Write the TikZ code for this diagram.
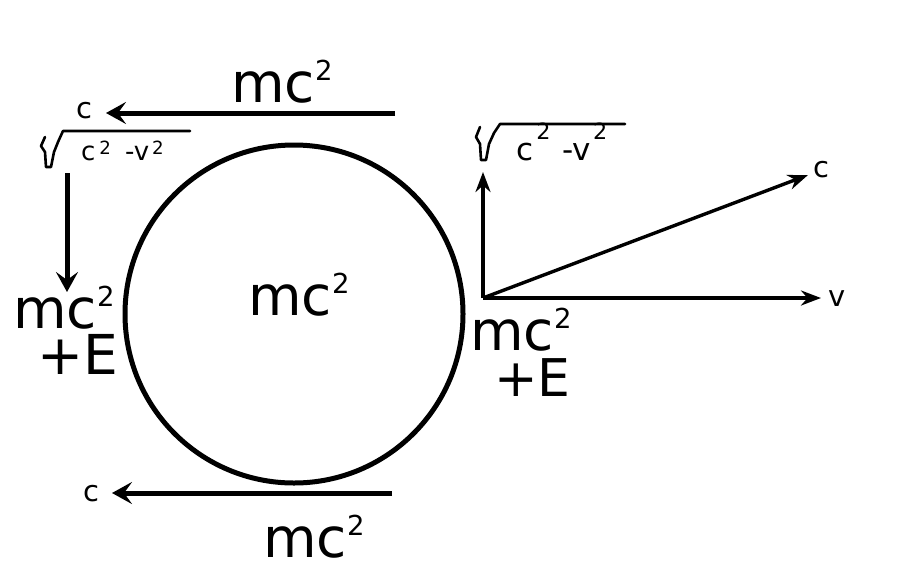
\documentclass[tikz,border=0pt]{standalone}
\usepackage{fontspec}
\setmainfont{DejaVu Sans}
\usetikzlibrary{arrows.meta,positioning}
\tikzset{
  big/.style={font=\fontsize{55}{55}\selectfont, inner sep=0pt, anchor=base west, text depth=0pt},
  small/.style={font=\fontsize{29}{29}\selectfont, inner sep=0pt, anchor=base west, text depth=0pt},
  rootlbl/.style={font=\fontsize{31}{31}\selectfont, inner sep=0pt, anchor=base west, text depth=0pt},
  flow/.style={-{Stealth[length=20pt,width=22pt,inset=8pt]}, line width=5pt},
  axis/.style={-{Stealth[length=20pt,width=15pt]}, line width=3.4pt},
  rootsign/.style={line width=2.6pt, line join=round, line cap=round},
}
\newcommand{\sqr}[2]{\raisebox{#2em}{\scalebox{#1}{2}}}
\newcommand{\mcsq}{mc\sqr{0.5}{0.4}}
\newcommand{\radleft}{c\hspace{4pt}\sqr{0.7}{0.2}\hspace{14pt}-v\hspace{3pt}\sqr{0.7}{0.2}}
\newcommand{\radright}{c\hspace{3pt}\sqr{0.72}{0.65}\hspace{12pt}-v\hspace{2pt}\sqr{0.72}{0.65}}

\begin{document}
\begin{tikzpicture}[x=1pt,y=-1pt]
  \useasboundingbox (0,0) rectangle (907,574);
  % the ring
  \node[draw, circle, line width=5pt, minimum size=338pt] (ring) at (294,314) {};
  \node[big] (mid) at (248,315) {\mcsq};

  % top and bottom arrows
  \coordinate (topR) at (395,113);
  \coordinate (topL) at (106,113);
  \draw[flow] (topR) -- (topL);
  \node[small] (ctop) at (76,118) {c};
  \node[big] (mtop) at (231,102) {\mcsq};

  \coordinate (botR) at (392,493);
  \coordinate (botL) at (112,493);
  \draw[flow] (botR) -- (botL);
  \node[small] (cbot) at (83,501) {c};
  \node[big] (mbot) at (263,557) {\mcsq};

  % left side
  \draw[rootsign] (45,137) -- (41,146) -- (45,152) -- (46,167) -- (51,167)
    -- (54,152) -- (58,142) -- (63,131) -- (190,131);
  \node[rootlbl, font=\fontsize{26}{26}\selectfont] (rleft) at (81,160) {\radleft};
  \coordinate (dtop) at (67,173);
  \coordinate (dbot) at (67,292);
  \draw[flow] (dtop) -- (dbot);
  \node[big] (mleft) at (13,328) {\mcsq};
  \node[big] (eleft) at (37,374) {+E};

  % right side
  \node[big] (mright) at (470,350) {\mcsq};
  \node[big, font=\fontsize{52}{52}\selectfont] (eright) at (494,396) {+E};

  % axes
  \coordinate (o) at (483,298);
  \coordinate (ytip) at (483,172);
  \coordinate (xtip) at (821,298);
  \coordinate (ctip) at (808,175);
  \draw[axis] (o) -- (ytip);
  \draw[axis] (o) -- (xtip);
  \draw[axis] (o) -- (ctip);
  \node[small] (vlab) at (828,306) {v};
  \node[small] (clab) at (813,177) {c};
  \draw[rootsign] (480,127) -- (476,137) -- (480,144) -- (481,160) -- (486,160)
    -- (489,144) -- (494,133) -- (500,124) -- (625,124);
  \node[rootlbl] (rright) at (516,160) {\radright};
\end{tikzpicture}
\end{document}
